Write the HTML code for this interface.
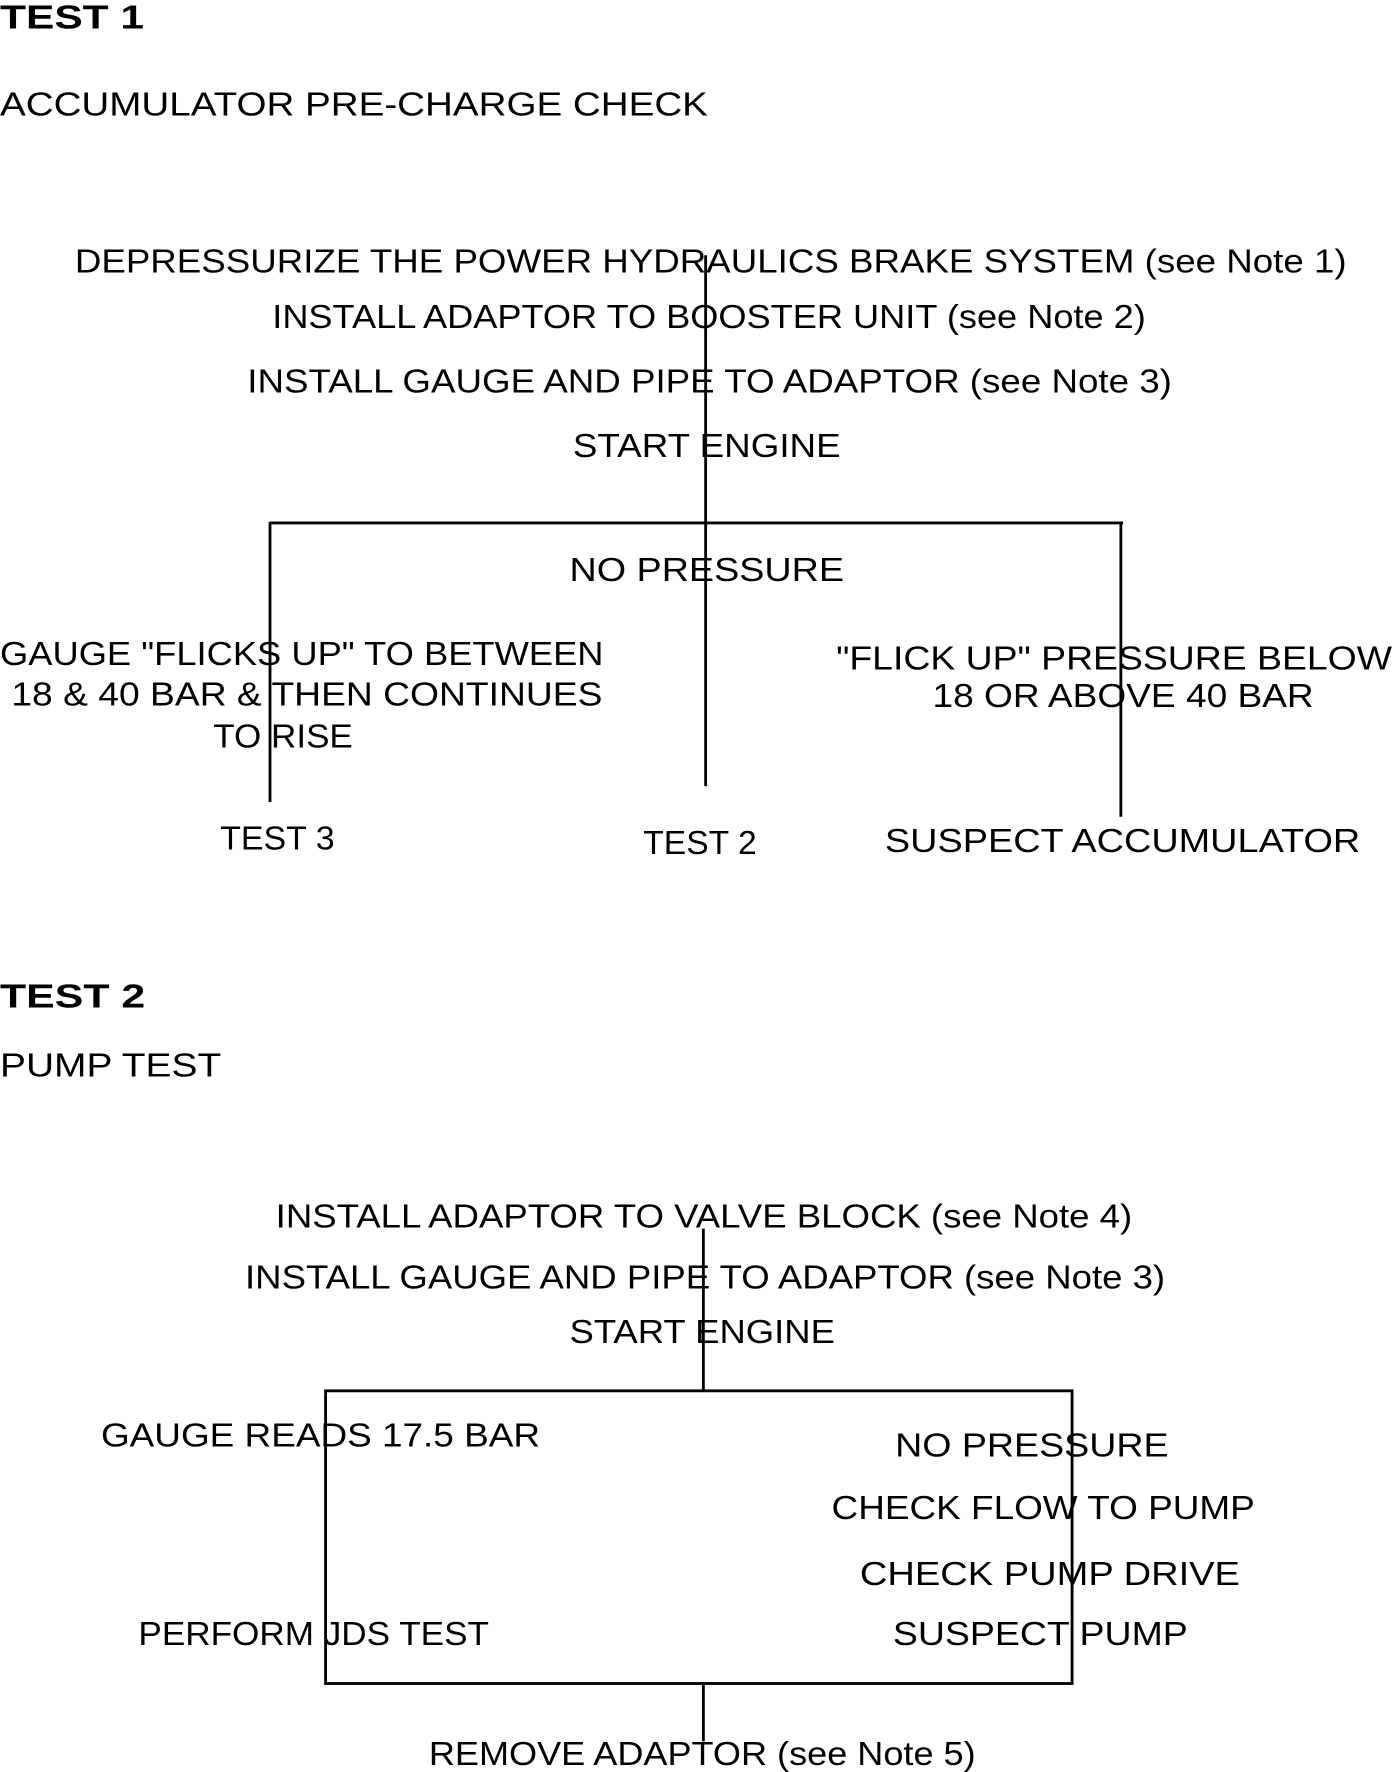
<!DOCTYPE html>
<html><head><meta charset="utf-8"><style>
html,body{margin:0;padding:0;background:#fff;}
svg{display:block;}
text{font-family:"Liberation Sans",sans-serif;font-size:29px;fill:#000;}
.b{font-weight:bold;}
</style></head><body>
<svg width="1392" height="1772" viewBox="0 0 1227 1562" preserveAspectRatio="none" xmlns="http://www.w3.org/2000/svg">
<g stroke="#000" stroke-width="2.5" fill="none">
<line x1="622" y1="225" x2="622" y2="693"/>
<line x1="238" y1="461" x2="990" y2="461"/>
<line x1="238" y1="460" x2="238" y2="707"/>
<line x1="988" y1="460" x2="988" y2="720"/>
<line x1="620" y1="1083" x2="620" y2="1226"/>
<rect x="287" y="1226" width="658" height="258"/>
<line x1="620" y1="1484" x2="620" y2="1535"/>
</g>
<text class="b" x="0" y="25" textLength="127" lengthAdjust="spacingAndGlyphs">TEST  1</text>
<text x="0" y="102" textLength="624" lengthAdjust="spacingAndGlyphs">ACCUMULATOR PRE-CHARGE CHECK</text>
<text x="66" y="240" textLength="1121" lengthAdjust="spacingAndGlyphs">DEPRESSURIZE THE POWER HYDRAULICS BRAKE SYSTEM (see Note 1)</text>
<text x="240" y="289" textLength="770" lengthAdjust="spacingAndGlyphs">INSTALL ADAPTOR TO BOOSTER UNIT (see Note 2)</text>
<text x="218" y="346" textLength="815" lengthAdjust="spacingAndGlyphs">INSTALL GAUGE AND PIPE TO ADAPTOR (see Note 3)</text>
<text x="505" y="403" textLength="236" lengthAdjust="spacingAndGlyphs">START  ENGINE</text>
<text x="502" y="512" textLength="242" lengthAdjust="spacingAndGlyphs">NO  PRESSURE</text>
<text x="0" y="586" textLength="532" lengthAdjust="spacingAndGlyphs">GAUGE "FLICKS UP" TO BETWEEN</text>
<text x="10" y="622" textLength="521" lengthAdjust="spacingAndGlyphs">18 &amp; 40 BAR &amp; THEN CONTINUES</text>
<text x="188" y="659" textLength="123" lengthAdjust="spacingAndGlyphs">TO RISE</text>
<text x="737" y="590" textLength="490" lengthAdjust="spacingAndGlyphs">"FLICK UP" PRESSURE BELOW</text>
<text x="822" y="623" textLength="336" lengthAdjust="spacingAndGlyphs">18 OR ABOVE 40 BAR</text>
<text x="194" y="749" textLength="101" lengthAdjust="spacingAndGlyphs">TEST 3</text>
<text x="567" y="753" textLength="100" lengthAdjust="spacingAndGlyphs">TEST 2</text>
<text x="780" y="751" textLength="419" lengthAdjust="spacingAndGlyphs">SUSPECT  ACCUMULATOR</text>
<text class="b" x="0" y="888" textLength="128" lengthAdjust="spacingAndGlyphs">TEST  2</text>
<text x="0" y="949" textLength="195" lengthAdjust="spacingAndGlyphs">PUMP TEST</text>
<text x="243" y="1082" textLength="755" lengthAdjust="spacingAndGlyphs">INSTALL ADAPTOR TO VALVE BLOCK (see Note 4)</text>
<text x="216" y="1136" textLength="811" lengthAdjust="spacingAndGlyphs">INSTALL GAUGE AND PIPE TO ADAPTOR (see Note 3)</text>
<text x="502" y="1184" textLength="234" lengthAdjust="spacingAndGlyphs">START  ENGINE</text>
<text x="89" y="1275" textLength="387" lengthAdjust="spacingAndGlyphs">GAUGE READS 17.5 BAR</text>
<text x="789" y="1284" textLength="241" lengthAdjust="spacingAndGlyphs">NO  PRESSURE</text>
<text x="733" y="1339" textLength="373" lengthAdjust="spacingAndGlyphs">CHECK FLOW TO PUMP</text>
<text x="758" y="1397" textLength="335" lengthAdjust="spacingAndGlyphs">CHECK  PUMP  DRIVE</text>
<text x="787" y="1450" textLength="260" lengthAdjust="spacingAndGlyphs">SUSPECT  PUMP</text>
<text x="122" y="1450" textLength="309" lengthAdjust="spacingAndGlyphs">PERFORM JDS TEST</text>
<text x="378" y="1556" textLength="482" lengthAdjust="spacingAndGlyphs">REMOVE ADAPTOR (see Note 5)</text>
</svg>
</body></html>
